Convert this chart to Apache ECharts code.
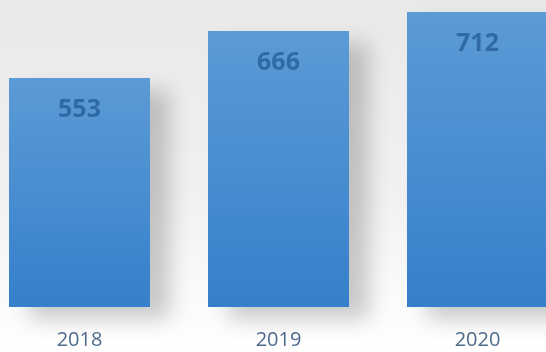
<!DOCTYPE html>
<html><head><meta charset="utf-8">
<script src="https://cdn.jsdelivr.net/npm/echarts@6/dist/echarts.min.js"></script>
<style>html,body{margin:0;padding:0;background:#fff;overflow:hidden;width:546px;height:352px;position:relative}
#c{width:597px;height:352px;position:absolute;left:-20px;top:0}</style>
</head><body><div id="c"></div>
<script>
var categories = ['2018', '2019', '2020'];
var values = [553, 666, 712];

var chart = echarts.init(document.getElementById('c'));
chart.setOption({
  animation: false,
  backgroundColor: {
    type: 'linear', x: 0, y: 0, x2: 0, y2: 1,
    colorStops: [
      {offset: 0, color: '#e9e9e9'},
      {offset: 0.55, color: '#f1f1f1'},
      {offset: 0.85, color: '#fbfbfb'},
      {offset: 1, color: '#ffffff'}
    ]
  },
  grid: {left: 0, right: 0, top: 0, bottom: 45, containLabel: false},
  xAxis: {
    type: 'category', data: categories,
    axisLine: {show: false}, axisTick: {show: false},
    axisLabel: {color: '#4f6b8c', fontSize: 20, fontFamily: 'Open Sans', margin: 23}
  },
  yAxis: {type: 'value', min: 0, max: 741, show: false, splitLine: {show: false}},
  series: [{
    type: 'bar', data: values, barWidth: 141,
    itemStyle: {
      color: {type: 'linear', x: 0, y: 0, x2: 0, y2: 1,
        colorStops: [{offset: 0, color: '#5b9bd6'}, {offset: 1, color: '#3580ca'}]},
      shadowColor: 'rgba(0,0,0,0.2)', shadowBlur: 20, shadowOffsetX: 20, shadowOffsetY: 12
    },
    label: {
      show: true, position: 'insideTop', distance: 19,
      color: '#2f6aa6', fontSize: 25, fontWeight: 'bold', fontFamily: 'Open Sans'
    }
  }]
});
</script></body></html>
